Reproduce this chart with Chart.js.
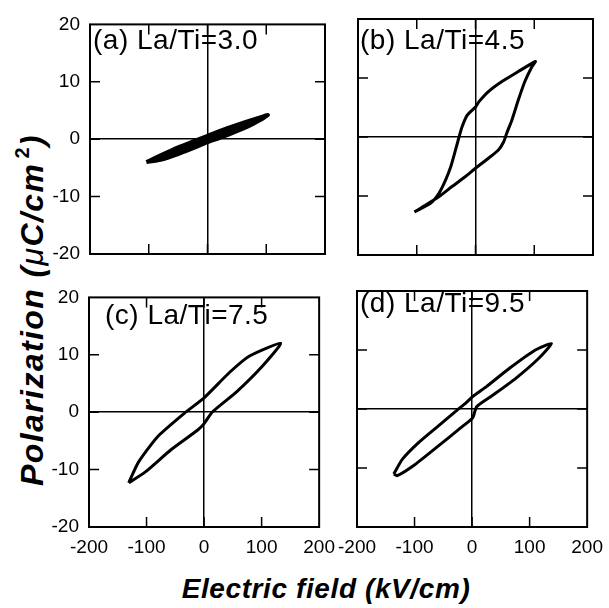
<!DOCTYPE html>
<html>
<head>
<meta charset="utf-8">
<script src="https://cdn.jsdelivr.net/npm/chart.js@4.4.1/dist/chart.umd.min.js"></script>
<style>
  body { margin: 0; background: #fff; width: 609px; height: 608px; position: relative; overflow: hidden;
         font-family: "Liberation Sans", Arial, sans-serif; color: #000; }
  canvas { position: absolute; }
  .tag { position: absolute; font-size: 28px; line-height: 1; letter-spacing: 0.5px; white-space: nowrap; }
  .axt { position: absolute; font-weight: bold; font-style: italic; line-height: 1; white-space: nowrap; }
  .axt sup { font-size: 0.62em; line-height: 0; vertical-align: 0.7em; margin-left: 4px; font-style: normal; }
</style>
</head>
<body>
<div class="axt" id="ytitle" style="font-size:32px;letter-spacing:1.4px;left:32px;top:310px;transform:translate(-50%,-50%) rotate(-90deg);">Polarization (<span style="font-weight:normal">μ</span>C/cm<sup>2</sup>)</div>
<div class="axt" id="xtitle" style="font-size:28px;letter-spacing:0.6px;left:326px;top:575px;transform:translateX(-50%);">Electric field (kV/cm)</div>
<script>
const xTicks = [-200, -100, 0, 100, 200];
const yTicks = [-20, -10, 0, 10, 20];
const panelNames = ['(a) La/Ti=3.0', '(b) La/Ti=4.5', '(c) La/Ti=7.5', '(d) La/Ti=9.5'];

// each loop starts at the negative tip, runs up the lower branch, back along the upper one
const fieldA = [-104, -80, -50, -20, 0, 20, 50, 80, 103, 80, 50, 20, 0, -20, -50, -80, -104];
const polA   = [-4.0, -3.6, -2.6, -1.4, -0.5, 0.2, 1.4, 2.8, 4.2, 3.5, 2.5, 1.4, 0.6, -0.2, -1.4, -2.8, -4.0];

const fieldB = [-104, -84, -62, -40, -17, 0, 22, 39, 48, 53, 62, 73, 84, 96, 102,
                73, 45, 22, 6, 0, -14, -23, -28, -34, -42, -51, -62, -76, -104];
const polB   = [-12.7, -11.5, -10.1, -8.4, -6.7, -5.3, -3.6, -2.2, -0.8, 0.6, 2.9, 6.3, 9.4, 11.9, 12.8,
                11.1, 9.4, 7.7, 6.0, 5.1, 3.7, 1.7, 0.0, -2.2, -5.0, -7.3, -9.5, -11.2, -12.7];

const fieldC = [-131, -102, -57, -11, 0, 14, 57, 102, 133, 79, 45, 0, -32, -80, -114, -131];
const polC   = [-12.3, -10.4, -6.5, -3.1, -2.0, 0.0, 3.6, 8.1, 12.0, 9.8, 7.0, 2.5, 0.0, -4.2, -8.7, -12.3];

const fieldD = [-136, -130, -99, -59, -20, 1, 8, 37, 76, 116, 138,
                110, 65, 25, 1, -11, -25, -59, -93, -121, -136];
const polD   = [-11.0, -11.3, -9.4, -6.3, -3.2, -1.5, 0.4, 2.4, 5.2, 8.6, 11.1,
                10.0, 6.9, 3.8, 2.1, 1.0, -0.1, -2.9, -5.7, -8.5, -11.0];

const FONT = '"Liberation Sans", Arial, sans-serif';
const padL = 45, padT = 15, padR = 20, padB = 40;
const panelW = 235, panelH = 236;

// the La/Ti=3.0 loop is so slim it prints as a solid band, so it gets filled
const panels = [
  { left: 90,  top: 18,  e: fieldA, p: polA, name: panelNames[0], showX: false, showY: true,  tx: 93,  ty: 26,  lw: 4, solid: true },
  { left: 358, top: 19,  e: fieldB, p: polB, name: panelNames[1], showX: false, showY: false, tx: 360, ty: 26,  lw: 3 },
  { left: 89,  top: 291, e: fieldC, p: polC, name: panelNames[2], showX: true,  showY: true,  tx: 105, ty: 301, lw: 3 },
  { left: 357, top: 291, e: fieldD, p: polD, name: panelNames[3], showX: true,  showY: false, tx: 360, ty: 289, lw: 3 }
];

// box around the plot area plus short inward ticks on every side
const framePlugin = {
  id: 'frame',
  afterDraw(chart) {
    const { ctx, chartArea: a, scales } = chart;
    const len = 10;
    ctx.save();
    ctx.strokeStyle = '#000';
    ctx.lineWidth = 2;
    ctx.strokeRect(a.left, a.top, a.right - a.left, a.bottom - a.top);
    ctx.lineWidth = 1.5;
    ctx.beginPath();
    xTicks.slice(1, -1).forEach(v => {
      const x = scales.x.getPixelForValue(v);
      ctx.moveTo(x, a.top); ctx.lineTo(x, a.top + len);
      ctx.moveTo(x, a.bottom); ctx.lineTo(x, a.bottom - len);
    });
    yTicks.slice(1, -1).forEach(v => {
      const y = scales.y.getPixelForValue(v);
      ctx.moveTo(a.left, y); ctx.lineTo(a.left + len, y);
      ctx.moveTo(a.right, y); ctx.lineTo(a.right - len, y);
    });
    ctx.stroke();
    ctx.restore();
  }
};

const zeroOnly = c => (c.tick && c.tick.value === 0) ? '#000' : 'rgba(0,0,0,0)';

panels.forEach(pn => {
  const cv = document.createElement('canvas');
  cv.width = panelW + padL + padR;
  cv.height = panelH + padT + padB;
  cv.style.left = (pn.left - padL) + 'px';
  cv.style.top = (pn.top - padT) + 'px';
  document.body.appendChild(cv);

  const tag = document.createElement('div');
  tag.className = 'tag';
  tag.style.left = pn.tx + 'px';
  tag.style.top = pn.ty + 'px';
  tag.textContent = pn.name;
  document.body.appendChild(tag);

  new Chart(cv.getContext('2d'), {
    type: 'scatter',
    data: {
      datasets: [{
        data: pn.e.map((v, i) => ({ x: v, y: pn.p[i] })),
        showLine: true,
        borderColor: '#000',
        backgroundColor: '#000',
        borderWidth: pn.lw,
        borderJoinStyle: 'round',
        pointRadius: 0,
        tension: 0.2,
        fill: pn.solid ? 'shape' : false
      }]
    },
    options: {
      responsive: false,
      animation: false,
      layout: { padding: 0 },
      plugins: { legend: { display: false }, tooltip: { enabled: false } },
      scales: {
        x: {
          type: 'linear', position: 'bottom',
          min: xTicks[0], max: xTicks[xTicks.length - 1],
          afterBuildTicks: s => { s.ticks = xTicks.map(v => ({ value: v })); },
          ticks: { display: pn.showX, autoSkip: false, maxRotation: 0, padding: 9, color: '#000',
                   font: { family: FONT, size: 19 } },
          grid: { drawTicks: false, color: zeroOnly, lineWidth: 1.5 },
          border: { display: false },
          afterFit: s => { s.height = padB; }
        },
        y: {
          type: 'linear', position: 'left',
          min: yTicks[0], max: yTicks[yTicks.length - 1],
          afterBuildTicks: s => { s.ticks = yTicks.map(v => ({ value: v })); },
          ticks: { display: pn.showY, autoSkip: false, padding: 10, color: '#000',
                   font: { family: FONT, size: 19 } },
          grid: { drawTicks: false, color: zeroOnly, lineWidth: 1.5 },
          border: { display: false },
          afterFit: s => { s.width = padL; }
        },
        xTop: {
          type: 'linear', position: 'top', axis: 'x',
          ticks: { display: false }, grid: { display: false }, border: { display: false },
          afterFit: s => { s.height = padT; }
        },
        yRight: {
          type: 'linear', position: 'right', axis: 'y',
          ticks: { display: false }, grid: { display: false }, border: { display: false },
          afterFit: s => { s.width = padR; }
        }
      }
    },
    plugins: [framePlugin]
  });
});
</script>
</body>
</html>
